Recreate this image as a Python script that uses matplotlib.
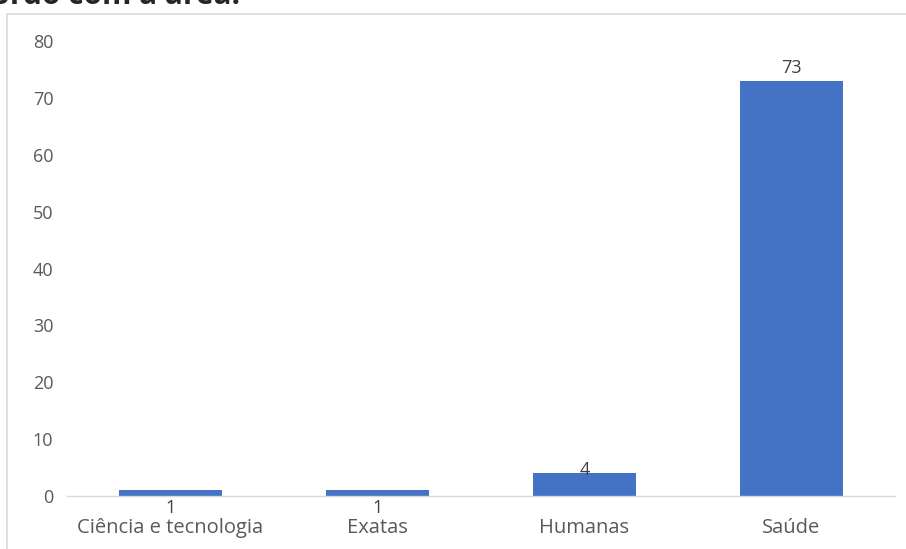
import matplotlib
matplotlib.use("Agg")
import matplotlib.pyplot as plt
from matplotlib.patches import Rectangle

categories = ["Ciência e tecnologia", "Exatas", "Humanas", "Saúde"]
values = [1, 1, 4, 73]
yticks = [0, 10, 20, 30, 40, 50, 60, 70, 80]
title_fragment = "acordo com a área."

# label baseline offsets (points) relative to bar top, as placed in the reference
label_offsets = [-16.3, -16.3, -1.3, 5.6]

plt.rcParams['font.family'] = ['Open Sans', 'DejaVu Sans']

W, H = 906, 549
fig = plt.figure(figsize=(W / 100, H / 100), dpi=100)
ax = fig.add_axes([67 / W, 1 - 496 / H, (895 - 67) / W, (496 - 41) / H])

x = list(range(len(categories)))
bars = ax.bar(x, values, width=0.5, color="#4472C4", zorder=2)

ax.set_xlim(-0.5, len(categories) - 0.5)
ax.set_ylim(0, 80)
ax.set_yticks(yticks)
ax.set_yticklabels([str(t) for t in yticks], fontsize=13, color="#595959")
ax.set_xticks(x)
ax.set_xticklabels(categories, fontsize=14.5, color="#595959")
ax.tick_params(axis='both', length=0)
ax.tick_params(axis='y', pad=9.8)
ax.tick_params(axis='x', pad=15.6)

for s in ["top", "right", "left"]:
    ax.spines[s].set_visible(False)
ax.spines["bottom"].set_color("#d9d9d9")
ax.spines["bottom"].set_linewidth(1)

for xi, v, off in zip(x, values, label_offsets):
    ax.annotate(str(v), (xi, v), xytext=(0, off), textcoords="offset points",
                ha="center", va="baseline", fontsize=13, color="#404040",
                zorder=3)

# chart border
fig.add_artist(Rectangle((7 / W, -0.05), 1.0, 1 - 14 / H + 0.05,
                         transform=fig.transFigure, fill=False,
                         edgecolor="#d9d9d9", linewidth=1.2))

# clipped title text at the top (only its lower part is visible in the reference)
fig.text(240 / W, 1 - 3.5 / H, title_fragment, ha="right", va="baseline",
         fontsize=21.5, fontweight="bold", color="#262626")

fig.savefig("out.png", dpi=100)
